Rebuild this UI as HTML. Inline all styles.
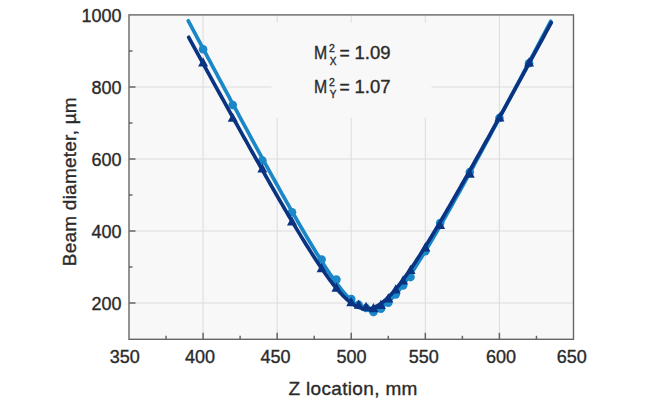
<!DOCTYPE html>
<html><head><meta charset="utf-8"><style>html,body{margin:0;padding:0;background:#fff;width:650px;height:406px;overflow:hidden}svg{display:block}</style></head>
<body><svg width="650" height="406" viewBox="0 0 650 406">
<rect x="0" y="0" width="650" height="406" fill="#ffffff"/>
<rect x="129.0" y="15.0" width="444.5" height="324.0" fill="#f8f8f8"/>
<line x1="203.08" y1="15.0" x2="203.08" y2="339.0" stroke="#dcdcdc" stroke-width="1"/>
<line x1="277.17" y1="15.0" x2="277.17" y2="339.0" stroke="#dcdcdc" stroke-width="1"/>
<line x1="351.25" y1="15.0" x2="351.25" y2="339.0" stroke="#dcdcdc" stroke-width="1"/>
<line x1="425.33" y1="15.0" x2="425.33" y2="339.0" stroke="#dcdcdc" stroke-width="1"/>
<line x1="499.42" y1="15.0" x2="499.42" y2="339.0" stroke="#dcdcdc" stroke-width="1"/>
<line x1="129.0" y1="303.00" x2="573.5" y2="303.00" stroke="#dcdcdc" stroke-width="1"/>
<line x1="129.0" y1="231.00" x2="573.5" y2="231.00" stroke="#dcdcdc" stroke-width="1"/>
<line x1="129.0" y1="159.00" x2="573.5" y2="159.00" stroke="#dcdcdc" stroke-width="1"/>
<line x1="129.0" y1="87.00" x2="573.5" y2="87.00" stroke="#dcdcdc" stroke-width="1"/>
<rect x="271.5" y="22.7" width="160" height="95.3" fill="#f8f8f8"/>
<line x1="166.04" y1="339.3" x2="166.04" y2="335.8" stroke="#666666" stroke-width="1.5"/>
<line x1="203.08" y1="339.3" x2="203.08" y2="332.8" stroke="#666666" stroke-width="1.5"/>
<line x1="240.12" y1="339.3" x2="240.12" y2="335.8" stroke="#666666" stroke-width="1.5"/>
<line x1="277.17" y1="339.3" x2="277.17" y2="332.8" stroke="#666666" stroke-width="1.5"/>
<line x1="314.21" y1="339.3" x2="314.21" y2="335.8" stroke="#666666" stroke-width="1.5"/>
<line x1="351.25" y1="339.3" x2="351.25" y2="332.8" stroke="#666666" stroke-width="1.5"/>
<line x1="388.29" y1="339.3" x2="388.29" y2="335.8" stroke="#666666" stroke-width="1.5"/>
<line x1="425.33" y1="339.3" x2="425.33" y2="332.8" stroke="#666666" stroke-width="1.5"/>
<line x1="462.38" y1="339.3" x2="462.38" y2="335.8" stroke="#666666" stroke-width="1.5"/>
<line x1="499.42" y1="339.3" x2="499.42" y2="332.8" stroke="#666666" stroke-width="1.5"/>
<line x1="536.46" y1="339.3" x2="536.46" y2="335.8" stroke="#666666" stroke-width="1.5"/>
<line x1="129.0" y1="303.00" x2="135.5" y2="303.00" stroke="#666666" stroke-width="1.5"/>
<line x1="129.0" y1="267.00" x2="132.5" y2="267.00" stroke="#666666" stroke-width="1.5"/>
<line x1="129.0" y1="231.00" x2="135.5" y2="231.00" stroke="#666666" stroke-width="1.5"/>
<line x1="129.0" y1="195.00" x2="132.5" y2="195.00" stroke="#666666" stroke-width="1.5"/>
<line x1="129.0" y1="159.00" x2="135.5" y2="159.00" stroke="#666666" stroke-width="1.5"/>
<line x1="129.0" y1="123.00" x2="132.5" y2="123.00" stroke="#666666" stroke-width="1.5"/>
<line x1="129.0" y1="87.00" x2="135.5" y2="87.00" stroke="#666666" stroke-width="1.5"/>
<line x1="129.0" y1="51.00" x2="132.5" y2="51.00" stroke="#666666" stroke-width="1.5"/>
<path d="M188.27,20.79 L189.78,23.62 L191.29,26.45 L192.80,29.29 L194.31,32.12 L195.82,34.95 L197.33,37.78 L198.84,40.61 L200.35,43.44 L201.86,46.26 L203.37,49.09 L204.88,51.91 L206.39,54.74 L207.90,57.56 L209.41,60.38 L210.92,63.20 L212.43,66.02 L213.94,68.84 L215.45,71.66 L216.96,74.47 L218.47,77.29 L219.98,80.10 L221.49,82.91 L223.00,85.72 L224.51,88.53 L226.02,91.34 L227.53,94.15 L229.04,96.95 L230.55,99.76 L232.06,102.56 L233.57,105.36 L235.08,108.15 L236.59,110.95 L238.10,113.74 L239.61,116.54 L241.12,119.33 L242.63,122.11 L244.14,124.90 L245.65,127.68 L247.16,130.46 L248.67,133.24 L250.18,136.02 L251.69,138.79 L253.20,141.56 L254.71,144.33 L256.22,147.10 L257.73,149.86 L259.24,152.62 L260.75,155.38 L262.26,158.13 L263.77,160.88 L265.28,163.63 L266.79,166.37 L268.30,169.11 L269.81,171.84 L271.32,174.57 L272.83,177.30 L274.34,180.02 L275.85,182.74 L277.36,185.45 L278.87,188.15 L280.38,190.86 L281.89,193.55 L283.40,196.24 L284.91,198.93 L286.42,201.60 L287.93,204.27 L289.44,206.94 L290.95,209.59 L292.46,212.24 L293.97,214.88 L295.48,217.52 L296.99,220.14 L298.50,222.75 L300.01,225.36 L301.52,227.95 L303.03,230.53 L304.54,233.10 L306.05,235.66 L307.56,238.21 L309.07,240.74 L310.58,243.26 L312.09,245.76 L313.60,248.25 L315.11,250.72 L316.62,253.17 L318.13,255.60 L319.64,258.01 L321.15,260.40 L322.66,262.76 L324.17,265.11 L325.68,267.42 L327.19,269.71 L328.70,271.97 L330.21,274.19 L331.72,276.38 L333.23,278.54 L334.74,280.65 L336.25,282.73 L337.76,284.76 L339.27,286.74 L340.78,288.67 L342.29,290.55 L343.80,292.37 L345.31,294.12 L346.82,295.82 L348.33,297.44 L349.84,298.98 L351.35,300.45 L352.86,301.83 L354.37,303.13 L355.88,304.33 L357.39,305.43 L358.90,306.42 L360.41,307.31 L361.92,308.09 L363.43,308.75 L364.94,309.29 L366.45,309.70 L367.96,310.00 L369.47,310.16 L370.98,310.20 L372.49,310.10 L374.00,309.88 L375.51,309.52 L377.02,309.04 L378.53,308.44 L380.04,307.71 L381.56,306.87 L383.07,305.91 L384.58,304.85 L386.09,303.68 L387.60,302.41 L389.11,301.05 L390.62,299.60 L392.13,298.07 L393.64,296.46 L395.15,294.78 L396.66,293.02 L398.17,291.20 L399.68,289.32 L401.19,287.39 L402.70,285.40 L404.21,283.36 L405.72,281.28 L407.23,279.15 L408.74,276.98 L410.25,274.77 L411.76,272.53 L413.27,270.25 L414.78,267.94 L416.29,265.61 L417.80,263.25 L419.31,260.86 L420.82,258.44 L422.33,256.01 L423.84,253.55 L425.35,251.07 L426.86,248.58 L428.37,246.07 L429.88,243.54 L431.39,240.99 L432.90,238.43 L434.41,235.86 L435.92,233.27 L437.43,230.67 L438.94,228.05 L440.45,225.43 L441.96,222.80 L443.47,220.15 L444.98,217.50 L446.49,214.84 L448.00,212.16 L449.51,209.48 L451.02,206.80 L452.53,204.10 L454.04,201.40 L455.55,198.69 L457.06,195.97 L458.57,193.25 L460.08,190.52 L461.59,187.79 L463.10,185.05 L464.61,182.31 L466.12,179.56 L467.63,176.80 L469.14,174.04 L470.65,171.28 L472.16,168.51 L473.67,165.74 L475.18,162.97 L476.69,160.19 L478.20,157.40 L479.71,154.62 L481.22,151.83 L482.73,149.03 L484.24,146.24 L485.75,143.44 L487.26,140.64 L488.77,137.83 L490.28,135.03 L491.79,132.22 L493.30,129.40 L494.81,126.59 L496.32,123.77 L497.83,120.95 L499.34,118.13 L500.85,115.31 L502.36,112.48 L503.87,109.66 L505.38,106.83 L506.89,103.99 L508.40,101.16 L509.91,98.33 L511.42,95.49 L512.93,92.65 L514.44,89.81 L515.95,86.97 L517.46,84.13 L518.97,81.28 L520.48,78.44 L521.99,75.59 L523.50,72.74 L525.01,69.89 L526.52,67.04 L528.03,64.19 L529.54,61.34 L531.05,58.48 L532.56,55.63 L534.07,52.77 L535.58,49.91 L537.09,47.05 L538.60,44.19 L540.11,41.33 L541.62,38.47 L543.13,35.61 L544.64,32.74 L546.15,29.88 L547.66,27.01 L549.17,24.15 L550.68,21.28" fill="none" stroke="#1a88c8" stroke-width="3.7" stroke-linecap="round" stroke-linejoin="round"/>
<circle cx="203.08" cy="49.20" r="4.3" fill="#1a88c8"/>
<circle cx="232.72" cy="105.00" r="4.3" fill="#1a88c8"/>
<circle cx="262.35" cy="160.44" r="4.3" fill="#1a88c8"/>
<circle cx="291.98" cy="212.28" r="4.3" fill="#1a88c8"/>
<circle cx="321.62" cy="259.44" r="4.3" fill="#1a88c8"/>
<circle cx="336.43" cy="279.60" r="4.3" fill="#1a88c8"/>
<circle cx="351.25" cy="299.04" r="4.3" fill="#1a88c8"/>
<circle cx="358.66" cy="304.80" r="4.3" fill="#1a88c8"/>
<circle cx="366.07" cy="308.04" r="4.3" fill="#1a88c8"/>
<circle cx="373.48" cy="312.00" r="4.3" fill="#1a88c8"/>
<circle cx="380.88" cy="308.76" r="4.3" fill="#1a88c8"/>
<circle cx="388.29" cy="302.64" r="4.3" fill="#1a88c8"/>
<circle cx="395.70" cy="294.36" r="4.3" fill="#1a88c8"/>
<circle cx="403.11" cy="285.36" r="4.3" fill="#1a88c8"/>
<circle cx="410.52" cy="277.08" r="4.3" fill="#1a88c8"/>
<circle cx="425.33" cy="251.10" r="4.3" fill="#1a88c8"/>
<circle cx="440.15" cy="223.08" r="4.3" fill="#1a88c8"/>
<circle cx="469.78" cy="171.96" r="4.3" fill="#1a88c8"/>
<circle cx="499.42" cy="117.96" r="4.3" fill="#1a88c8"/>
<circle cx="529.05" cy="63.24" r="4.3" fill="#1a88c8"/>
<path d="M188.71,37.29 L190.22,40.05 L191.73,42.81 L193.24,45.56 L194.75,48.32 L196.26,51.08 L197.78,53.83 L199.29,56.58 L200.80,59.33 L202.31,62.08 L203.82,64.83 L205.33,67.58 L206.84,70.33 L208.35,73.08 L209.86,75.82 L211.37,78.57 L212.88,81.31 L214.39,84.05 L215.90,86.79 L217.41,89.53 L218.92,92.26 L220.44,95.00 L221.95,97.73 L223.46,100.46 L224.97,103.19 L226.48,105.92 L227.99,108.65 L229.50,111.37 L231.01,114.09 L232.52,116.82 L234.03,119.53 L235.54,122.25 L237.05,124.97 L238.56,127.68 L240.07,130.39 L241.59,133.10 L243.10,135.80 L244.61,138.51 L246.12,141.21 L247.63,143.90 L249.14,146.60 L250.65,149.29 L252.16,151.98 L253.67,154.66 L255.18,157.35 L256.69,160.03 L258.20,162.70 L259.71,165.37 L261.22,168.04 L262.73,170.71 L264.25,173.37 L265.76,176.02 L267.27,178.67 L268.78,181.32 L270.29,183.96 L271.80,186.60 L273.31,189.23 L274.82,191.86 L276.33,194.48 L277.84,197.10 L279.35,199.70 L280.86,202.31 L282.37,204.90 L283.88,207.49 L285.39,210.07 L286.91,212.65 L288.42,215.21 L289.93,217.77 L291.44,220.32 L292.95,222.86 L294.46,225.39 L295.97,227.90 L297.48,230.41 L298.99,232.91 L300.50,235.39 L302.01,237.86 L303.52,240.32 L305.03,242.77 L306.54,245.20 L308.06,247.61 L309.57,250.01 L311.08,252.38 L312.59,254.74 L314.10,257.08 L315.61,259.40 L317.12,261.70 L318.63,263.97 L320.14,266.22 L321.65,268.44 L323.16,270.63 L324.67,272.79 L326.18,274.92 L327.69,277.02 L329.20,279.07 L330.72,281.09 L332.23,283.07 L333.74,285.00 L335.25,286.88 L336.76,288.72 L338.27,290.50 L339.78,292.22 L341.29,293.88 L342.80,295.48 L344.31,297.01 L345.82,298.46 L347.33,299.84 L348.84,301.13 L350.35,302.34 L351.86,303.46 L353.38,304.49 L354.89,305.41 L356.40,306.24 L357.91,306.95 L359.42,307.56 L360.93,308.06 L362.44,308.43 L363.95,308.70 L365.46,308.84 L366.97,308.86 L368.48,308.76 L369.99,308.55 L371.50,308.21 L373.01,307.76 L374.53,307.19 L376.04,306.50 L377.55,305.71 L379.06,304.82 L380.57,303.82 L382.08,302.72 L383.59,301.54 L385.10,300.26 L386.61,298.90 L388.12,297.46 L389.63,295.95 L391.14,294.36 L392.65,292.71 L394.16,290.99 L395.67,289.22 L397.19,287.39 L398.70,285.51 L400.21,283.58 L401.72,281.60 L403.23,279.58 L404.74,277.52 L406.25,275.43 L407.76,273.29 L409.27,271.13 L410.78,268.93 L412.29,266.70 L413.80,264.45 L415.31,262.17 L416.82,259.86 L418.33,257.53 L419.85,255.18 L421.36,252.81 L422.87,250.43 L424.38,248.02 L425.89,245.59 L427.40,243.15 L428.91,240.70 L430.42,238.23 L431.93,235.74 L433.44,233.25 L434.95,230.74 L436.46,228.22 L437.97,225.69 L439.48,223.14 L441.00,220.59 L442.51,218.03 L444.02,215.46 L445.53,212.88 L447.04,210.29 L448.55,207.69 L450.06,205.09 L451.57,202.48 L453.08,199.86 L454.59,197.24 L456.10,194.61 L457.61,191.97 L459.12,189.33 L460.63,186.69 L462.14,184.03 L463.66,181.38 L465.17,178.71 L466.68,176.05 L468.19,173.38 L469.70,170.70 L471.21,168.02 L472.72,165.34 L474.23,162.65 L475.74,159.96 L477.25,157.26 L478.76,154.57 L480.27,151.87 L481.78,149.16 L483.29,146.45 L484.80,143.74 L486.32,141.03 L487.83,138.31 L489.34,135.60 L490.85,132.87 L492.36,130.15 L493.87,127.42 L495.38,124.70 L496.89,121.97 L498.40,119.23 L499.91,116.50 L501.42,113.76 L502.93,111.02 L504.44,108.28 L505.95,105.54 L507.47,102.80 L508.98,100.05 L510.49,97.30 L512.00,94.55 L513.51,91.80 L515.02,89.05 L516.53,86.30 L518.04,83.54 L519.55,80.78 L521.06,78.02 L522.57,75.27 L524.08,72.50 L525.59,69.74 L527.10,66.98 L528.61,64.21 L530.13,61.45 L531.64,58.68 L533.15,55.91 L534.66,53.14 L536.17,50.37 L537.68,47.60 L539.19,44.83 L540.70,42.06 L542.21,39.28 L543.72,36.51 L545.23,33.73 L546.74,30.96 L548.25,28.18 L549.76,25.40 L551.27,22.62" fill="none" stroke="#0a3482" stroke-width="3.7" stroke-linecap="round" stroke-linejoin="round"/>
<path d="M203.08,57.20 L208.08,66.40 L198.08,66.40 Z" fill="#0a3482"/>
<path d="M232.72,112.64 L237.72,121.84 L227.72,121.84 Z" fill="#0a3482"/>
<path d="M262.35,163.40 L267.35,172.60 L257.35,172.60 Z" fill="#0a3482"/>
<path d="M291.98,216.32 L296.98,225.52 L286.98,225.52 Z" fill="#0a3482"/>
<path d="M321.62,263.12 L326.62,272.32 L316.62,272.32 Z" fill="#0a3482"/>
<path d="M336.43,282.56 L341.43,291.76 L331.43,291.76 Z" fill="#0a3482"/>
<path d="M351.25,296.96 L356.25,306.16 L346.25,306.16 Z" fill="#0a3482"/>
<path d="M358.66,299.48 L363.66,308.68 L353.66,308.68 Z" fill="#0a3482"/>
<path d="M366.07,301.64 L371.07,310.84 L361.07,310.84 Z" fill="#0a3482"/>
<path d="M373.48,303.08 L378.48,312.28 L368.48,312.28 Z" fill="#0a3482"/>
<path d="M380.88,299.84 L385.88,309.04 L375.88,309.04 Z" fill="#0a3482"/>
<path d="M388.29,293.36 L393.29,302.56 L383.29,302.56 Z" fill="#0a3482"/>
<path d="M395.70,284.36 L400.70,293.56 L390.70,293.56 Z" fill="#0a3482"/>
<path d="M403.11,275.36 L408.11,284.56 L398.11,284.56 Z" fill="#0a3482"/>
<path d="M410.52,264.72 L415.52,273.92 L405.52,273.92 Z" fill="#0a3482"/>
<path d="M425.33,242.24 L430.33,251.44 L420.33,251.44 Z" fill="#0a3482"/>
<path d="M440.15,219.92 L445.15,229.12 L435.15,229.12 Z" fill="#0a3482"/>
<path d="M469.78,168.44 L474.78,177.64 L464.78,177.64 Z" fill="#0a3482"/>
<path d="M499.42,112.28 L504.42,121.48 L494.42,121.48 Z" fill="#0a3482"/>
<path d="M529.05,57.20 L534.05,66.40 L524.05,66.40 Z" fill="#0a3482"/>
<rect x="129.0" y="14.9" width="444.5" height="324.4" fill="none" stroke="#666666" stroke-width="1.4"/>
<g font-family="'Liberation Sans', sans-serif" stroke="#2a2a2a" stroke-width="0.35">
<text x="124.70" y="362.6" text-anchor="middle" font-size="18" fill="#2a2a2a">350</text>
<text x="199.90" y="362.6" text-anchor="middle" font-size="18" fill="#2a2a2a">400</text>
<text x="275.50" y="362.6" text-anchor="middle" font-size="18" fill="#2a2a2a">450</text>
<text x="351.50" y="362.6" text-anchor="middle" font-size="18" fill="#2a2a2a">500</text>
<text x="423.80" y="362.6" text-anchor="middle" font-size="18" fill="#2a2a2a">550</text>
<text x="500.90" y="362.6" text-anchor="middle" font-size="18" fill="#2a2a2a">600</text>
<text x="571.65" y="362.6" text-anchor="middle" font-size="18" fill="#2a2a2a">650</text>
<text x="121.5" y="309.50" text-anchor="end" font-size="18" fill="#2a2a2a">200</text>
<text x="121.5" y="237.50" text-anchor="end" font-size="18" fill="#2a2a2a">400</text>
<text x="121.5" y="165.50" text-anchor="end" font-size="18" fill="#2a2a2a">600</text>
<text x="121.5" y="94.10" text-anchor="end" font-size="18" fill="#2a2a2a">800</text>
<text x="121.5" y="22.20" text-anchor="end" font-size="18" fill="#2a2a2a">1000</text>
<text x="352.9" y="394.7" text-anchor="middle" font-size="19" fill="#2a2a2a" textLength="129" lengthAdjust="spacing">Z location, mm</text>
<text transform="translate(75.7,181.8) rotate(-90)" x="0" y="0" text-anchor="middle" font-size="19" fill="#2a2a2a" textLength="169" lengthAdjust="spacing">Beam diameter, µm</text>
<text x="314.0" y="59.40" font-size="18.5" fill="#2a2a2a" textLength="13.2" lengthAdjust="spacingAndGlyphs">M</text>
<text x="329.0" y="51.50" font-size="10.5" fill="#2a2a2a">2</text>
<text x="329.8" y="64.70" font-size="10" fill="#2a2a2a">X</text>
<text x="339.6" y="58.90" font-size="17.5" fill="#2a2a2a">=</text>
<text x="354.5" y="59.40" font-size="18.5" fill="#2a2a2a">1.09</text>
<text x="314.0" y="93.40" font-size="18.5" fill="#2a2a2a" textLength="13.2" lengthAdjust="spacingAndGlyphs">M</text>
<text x="329.0" y="85.50" font-size="10.5" fill="#2a2a2a">2</text>
<text x="329.8" y="97.80" font-size="10" fill="#2a2a2a">Y</text>
<text x="339.6" y="92.90" font-size="17.5" fill="#2a2a2a">=</text>
<text x="354.5" y="93.40" font-size="18.5" fill="#2a2a2a">1.07</text>
</g>
</svg></body></html>
